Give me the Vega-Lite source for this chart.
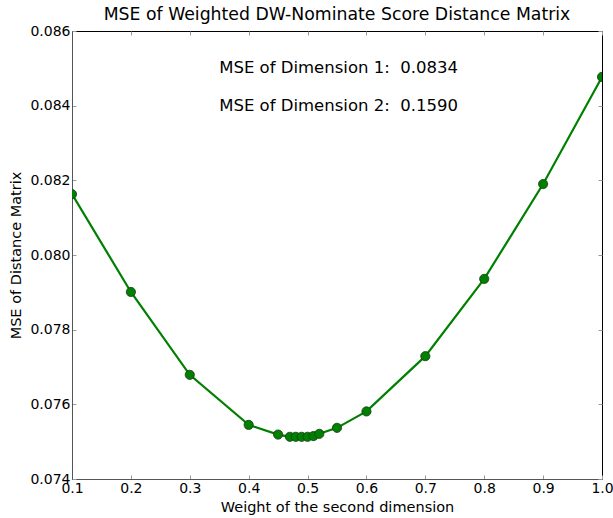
{
  "$schema": "https://vega.github.io/schema/vega-lite/v6.json",
  "width": 530,
  "height": 448,
  "autosize": {"type": "none"},
  "padding": {"left": 72, "top": 31, "right": 11, "bottom": 39},
  "background": "white",
  "config": {
    "font": "DejaVu Sans",
    "view": {"stroke": "black", "strokeWidth": 1},
    "axis": {"grid": false, "domainColor": "#555555", "tickColor": "#999999", "labelColor": "black", "titleColor": "black", "labelFont": "DejaVu Sans", "titleFont": "DejaVu Sans", "labelFontSize": 14, "titleFontSize": 14.5, "titleFontWeight": "normal", "tickSize": -4, "labelPadding": 6, "labelFlush": false, "labelOverlap": false}
  },
  "title": {"text": "MSE of Weighted DW-Nominate Score Distance Matrix", "fontSize": 17.3, "fontWeight": "normal", "font": "DejaVu Sans", "color": "black", "offset": 1},
  "datasets": {
    "curve": [
      {"w": 0.1, "mse": 0.08163},
      {"w": 0.2, "mse": 0.07901},
      {"w": 0.3, "mse": 0.07679},
      {"w": 0.4, "mse": 0.07545},
      {"w": 0.45, "mse": 0.07519},
      {"w": 0.47, "mse": 0.07513},
      {"w": 0.48, "mse": 0.07513},
      {"w": 0.49, "mse": 0.07513},
      {"w": 0.5, "mse": 0.07513},
      {"w": 0.51, "mse": 0.07515},
      {"w": 0.52, "mse": 0.07521},
      {"w": 0.55, "mse": 0.07537},
      {"w": 0.6, "mse": 0.07581},
      {"w": 0.7, "mse": 0.07729},
      {"w": 0.8, "mse": 0.07936},
      {"w": 0.9, "mse": 0.0819},
      {"w": 1.0, "mse": 0.08477}
    ],
    "notes": [
      {"w": 0.35, "mse": 0.0850, "label": "MSE of Dimension 1:\u00a0 0.0834"},
      {"w": 0.35, "mse": 0.0840, "label": "MSE of Dimension 2:\u00a0 0.1590"}
    ]
  },
  "resolve": {"axis": {"x": "independent", "y": "independent"}},
  "layer": [
    {
      "data": {"name": "curve"},
      "mark": {"type": "line", "color": "#008000", "strokeWidth": 2.2, "clip": true},
      "encoding": {
        "x": {"field": "w", "type": "quantitative", "scale": {"domain": [0.1, 1.0], "nice": false, "zero": false}, "axis": {"title": "Weight of the second dimension", "format": ".1f", "values": [0.1,0.2,0.3,0.4,0.5,0.6,0.7,0.8,0.9,1.0], "titlePadding": 5}},
        "y": {"field": "mse", "type": "quantitative", "scale": {"domain": [0.074, 0.086], "nice": false, "zero": false}, "axis": {"title": "MSE of Distance Matrix", "format": ".3f", "values": [0.074,0.076,0.078,0.080,0.082,0.084,0.086], "titlePadding": 6}}
      }
    },
    {
      "data": {"name": "curve"},
      "mark": {"type": "point", "filled": true, "size": 85, "color": "#008000", "stroke": "#1a3a1a", "strokeWidth": 0.8, "opacity": 1, "clip": true},
      "encoding": {
        "x": {"field": "w", "type": "quantitative", "axis": null},
        "y": {"field": "mse", "type": "quantitative", "axis": null}
      }
    },
    {
      "data": {"name": "notes"},
      "mark": {"type": "text", "align": "left", "baseline": "middle", "fontSize": 16.5, "font": "DejaVu Sans", "color": "black"},
      "encoding": {
        "x": {"field": "w", "type": "quantitative", "axis": {"orient": "top", "title": null, "labels": false, "values": [0.1,0.2,0.3,0.4,0.5,0.6,0.7,0.8,0.9,1.0], "domain": false}},
        "y": {"field": "mse", "type": "quantitative", "axis": {"orient": "right", "title": null, "labels": false, "values": [0.074,0.076,0.078,0.080,0.082,0.084,0.086], "domain": false}},
        "text": {"field": "label"}
      }
    }
  ]
}
